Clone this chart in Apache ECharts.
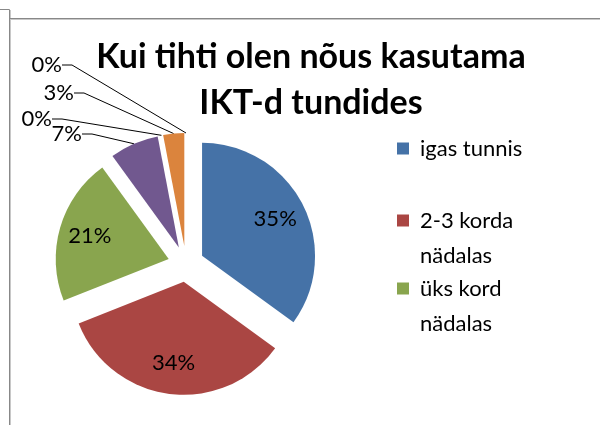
<!DOCTYPE html>
<html lang="et">
<head>
    <meta charset="utf-8" />
    <title>IKT tundides</title>
    <script type="text/javascript" src="https://cdn.jsdelivr.net/npm/echarts@6/dist/echarts.min.js"></script>
    <style type="text/css">
        html, body { margin: 0; padding: 0; background: #fff; }
    </style>
</head>
<body>
    <div id="main" style="width:600px;height:425px;"></div>

    <script type="text/javascript">

        var kategooriad = ['igas tunnis', '2-3 korda nädalas', 'üks kord nädalas', 'paar korda kuus', 'üks kord kuus', 'harvem', 'mitte kunagi'];
        var protsendid = [35, 34, 21, 7, 0, 3, 0];
        var legendiNimed = ['igas tunnis', '\n2-3 korda\nnädalas', '\nüks kord\nnädalas'];
        var varvid = ['#4572A7', '#AA4643', '#89A54E', '#71588F', '#4198AF', '#DB843D', '#93A9CF'];

        // väljaspool olevate siltide asukohad (parem serv, keskjoon)
        var valisSildid = { 3: [82, 134], 4: [52, 119], 5: [74, 93], 6: [62, 65] };

        var myChart = echarts.init(document.getElementById('main'));

        var keskpunkt = [186, 264];
        var raadius = 113;
        var nihe = 18;

        function andmed(valitud, ainultValised) {
            var arr = [];
            for (var i = 0; i < kategooriad.length; i++) {
                var d = { name: kategooriad[i], value: protsendid[i], selected: valitud };
                if (ainultValised && !valisSildid[i]) {
                    d.label = { show: false };
                    d.labelLine = { show: false };
                }
                arr.push(d);
            }
            return arr;
        }

        function legend(nimi, top) {
            return {
                orient: 'vertical',
                left: 397,
                top: top,
                padding: 0,
                itemWidth: 12,
                itemHeight: 12,
                icon: 'rect',
                data: [nimi],
                formatter: function (n) { return legendiNimed[kategooriad.indexOf(n)]; },
                textStyle: {
                    fontFamily: 'Lato',
                    fontSize: 22,
                    color: '#000',
                    lineHeight: 35,
                    padding: [0, 0, 0, 6]
                }
            };
        }

        var silt = { fontFamily: 'Lato', fontSize: 22, color: '#000' };

        var option = {
            color: varvid,
            animation: false,
            title: {
                text: 'Kui tihti olen nõus kasutama\nIKT-d tundides',
                left: 306,
                top: 29,
                textAlign: 'center',
                textStyle: {
                    fontFamily: 'Lato',
                    fontWeight: 'bold',
                    fontSize: 34,
                    lineHeight: 46,
                    color: '#000'
                }
            },
            legend: [
                legend(kategooriad[0], 131),
                legend(kategooriad[1], 168),
                legend(kategooriad[2], 236)
            ],
            graphic: [
                { type: 'polyline', shape: { points: [[0, 9.5], [9.5, 9.5], [9.5, 425]] }, style: { stroke: '#888', lineWidth: 1, fill: null } },
                { type: 'line', shape: { x1: 10.5, y1: 10, x2: 10.5, y2: 425 }, style: { stroke: '#c8c8c8', lineWidth: 1 } },
                { type: 'line', shape: { x1: 10, y1: 18.5, x2: 600, y2: 18.5 }, style: { stroke: '#888', lineWidth: 1 } },
                { type: 'line', shape: { x1: 10, y1: 19.5, x2: 600, y2: 19.5 }, style: { stroke: '#c8c8c8', lineWidth: 1 } }
            ],
            series: [{
                // plahvatatud sektorid
                name: 'sektorid',
                type: 'pie',
                center: keskpunkt,
                radius: [0, raadius],
                startAngle: 90,
                clockwise: true,
                selectedMode: 'multiple',
                selectedOffset: nihe,
                itemStyle: { borderWidth: 0 },
                emphasis: { disabled: true },
                label: { show: false },
                labelLine: { show: false },
                data: andmed(true, false)
            }, {
                // läbipaistev kiht, et suurte sektorite sildid oleksid ~70% raadiusel
                name: 'sildid',
                type: 'pie',
                silent: true,
                center: keskpunkt,
                radius: [raadius * 0.4, raadius],
                startAngle: 90,
                clockwise: true,
                selectedMode: 'multiple',
                selectedOffset: nihe,
                itemStyle: { color: 'rgba(0,0,0,0)' },
                label: echarts.util.extend({
                    show: true,
                    position: 'inside',
                    formatter: function (p) { return p.dataIndex < 3 ? p.value + '%' : ''; }
                }, silt),
                labelLine: { show: false },
                data: andmed(true, false)
            }, {
                // väikeste sektorite sildid juhtjoontega
                name: 'valised',
                type: 'pie',
                silent: true,
                center: keskpunkt,
                radius: [raadius + nihe - 1, raadius + nihe],
                startAngle: 90,
                clockwise: true,
                avoidLabelOverlap: false,
                minShowLabelAngle: 0,
                itemStyle: { color: 'rgba(0,0,0,0)' },
                label: echarts.util.extend({
                    show: true,
                    position: 'outside',
                    formatter: '{c}%'
                }, silt),
                labelLine: {
                    show: true,
                    length: 10,
                    length2: 10,
                    lineStyle: { color: '#000', width: 1 }
                },
                labelLayout: function (p) {
                    var pos = valisSildid[p.dataIndex];
                    if (!pos) return {};
                    return { x: pos[0], y: pos[1], align: 'right', verticalAlign: 'middle' };
                },
                data: andmed(false, true)
            }]
        };
        myChart.setOption(option);

    </script>
</body>
</html>
